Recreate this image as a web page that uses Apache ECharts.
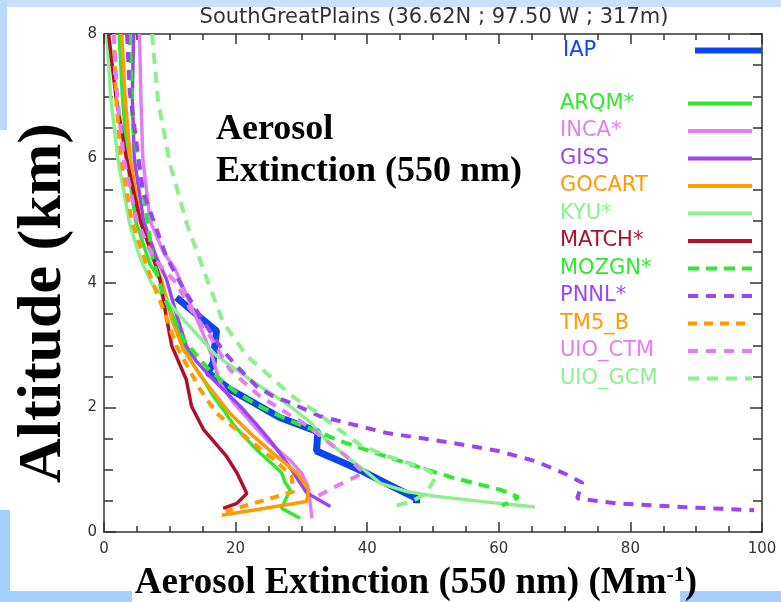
<!DOCTYPE html>
<html>
<head>
<meta charset="utf-8">
<script src="https://cdn.jsdelivr.net/npm/echarts@6/dist/echarts.min.js"></script>
<style>
html, body { margin: 0; padding: 0; background: #fff; }
#main { width: 781px; height: 602px; }
</style>
</head>
<body>
<div id="main"></div>
<script>
// profiles: [extinction (Mm-1), altitude (km)]
var iap = [[11.0,3.77],[14,3.5],[17.1,3.23],[16.8,2.95],[16.6,2.72],[15.8,2.56],[19,2.3],[22.7,2.08],[26.7,1.84],[32.5,1.61],[32.3,1.30],[36,1.13],[39.4,0.97],[43.5,0.75],[47.5,0.54],[47.5,0.46]];
var arqm = [[2.3,8],[2.8,7],[3.5,6],[4.8,5],[7,4.3],[8.5,4.06],[10,3.6],[12,3.04],[13.5,2.7],[15.1,2.45],[16.5,2.2],[18.1,1.97],[19.5,1.75],[21.2,1.54],[22.5,1.4],[23.7,1.27],[25.5,1.1],[27,0.95],[27.5,0.8],[28.3,0.68],[27.5,0.5],[27,0.38],[29.8,0.22]];
var inca = [[5.4,8],[5.6,7],[5.9,6],[7,5],[9,4.5],[10.8,4.23],[13,3.69],[15,3.2],[16.5,2.8],[17.6,2.4],[19.5,2.1],[22,1.8],[25,1.45],[28.2,1.16],[30,0.95],[31,0.73],[31.3,0.5],[31.6,0.22]];
var giss = [[4.5,8],[4.3,7],[4.6,6],[6,5],[8,4.4],[9.5,4.06],[11,3.5],[12.5,2.99],[14,2.75],[16.1,2.5],[18.5,2.25],[20.7,2.02],[23,1.75],[25,1.5],[26.7,1.27],[28.5,1.0],[30.8,0.63],[34.4,0.41]];
var gocart = [[2.7,8],[3.2,7],[4,6],[5.5,5],[7.5,4.4],[8.7,4.06],[10.3,3.42],[12,2.94],[15.1,2.45],[19.1,1.91],[22.7,1.54],[26.2,1.22],[29.3,0.95],[31.1,0.68],[30.8,0.49],[17.9,0.27]];
var kyu = [[0.4,8],[1.0,7],[2.1,6],[3.9,4.95],[5.5,4.4],[7.2,4.0],[12,3.42],[17.1,2.83],[22.2,2.45],[28.3,2.02],[31.5,1.75],[33.5,1.5],[37,1.2],[39.5,1.0],[42,0.78],[46,0.65],[50,0.58],[55,0.52],[60,0.46],[65.5,0.4]];
var match = [[0.7,8],[1.8,7],[3.4,6],[5.5,5],[7.5,4.4],[8.5,4.06],[9.4,3.5],[10.3,2.99],[12.5,2.45],[13.3,2.02],[15.1,1.65],[18.6,1.22],[20.2,0.95],[21.7,0.62],[20.2,0.46],[18.1,0.38]];
var mozgn = [[3.9,8],[4.4,6.5],[5.9,5.5],[7.4,4.4],[9,3.8],[12,3.1],[16,2.6],[20,2.25],[24,2.0],[28,1.8],[32.8,1.6],[35.4,1.48],[38.4,1.37],[43.5,1.19],[50.6,0.95],[53.1,0.87],[60.2,0.68],[63,0.56],[60.5,0.42]];
var pnnl = [[3.5,8],[3.9,7.08],[5.9,5.48],[9.5,4.42],[11.8,3.96],[15,3.4],[17.9,2.94],[20.1,2.67],[23.2,2.34],[25.7,2.18],[27.8,2.1],[32.8,1.86],[43,1.59],[53.1,1.43],[60,1.3],[65.8,1.13],[70.4,0.92],[72.7,0.79],[71.9,0.54],[78,0.46],[88,0.4],[98.8,0.35]];
var tm5b = [[1.5,8],[1.8,7],[2.6,6],[4.2,5],[5.8,4.5],[7.2,4.06],[9.2,3.53],[11,2.99],[13,2.6],[14.6,2.29],[17.1,1.91],[19.5,1.7],[23,1.4],[26,1.15],[28.5,0.9],[28.8,0.65],[24,0.5],[18.5,0.33]];
var uioCtm = [[1.5,8],[2,7],[3,6],[5,5],[7.5,4.4],[11,4.0],[13,3.6],[16.1,3.15],[19.1,2.61],[23.7,2.18],[27.2,1.95],[31,1.7],[34,1.45],[37,1.2],[39.5,0.95],[35,0.72],[31.5,0.52]];
var uioGcm = [[7.3,8],[8.2,6.94],[10,5.92],[12.6,4.95],[16,3.96],[18.1,3.37],[21.7,2.83],[26.3,2.4],[29,2.15],[32.4,1.92],[35,1.7],[38.9,1.40],[43,1.22],[48.6,1.03],[50.5,0.9],[49,0.62],[46.5,0.48],[43.5,0.4]];

var names = ['IAP','ARQM*','INCA*','GISS','GOCART','KYU*','MATCH*','MOZGN*','PNNL*','TM5_B','UIO_CTM','UIO_GCM'];
var profiles = [iap, arqm, inca, giss, gocart, kyu, match, mozgn, pnnl, tm5b, uioCtm, uioGcm];

// look of each line, same order as names
var colors = ['#0a46f0','#2fe82f','#e27ff0','#9b45f0','#ff9a00','#8cf08c','#b0102a','#2fe82f','#9b45f0','#ff9a00','#e27ff0','#8cf08c'];
var dashes = ['solid','solid','solid','solid','solid','solid','solid',[11,7],[10,8],[9,7],[10,8],[11,8]];
var widths = [7,3.5,3.5,3.5,3.5,3.5,3.5,4,4,4,4,4];

var myChart = echarts.init(document.getElementById('main'));

var series = names.map(function (n, i) {
	return {
		name: n,
		type: 'line',
		data: profiles[i],
		symbol: 'none',
		smooth: false,
		silent: true,
		lineStyle: { color: colors[i], width: widths[i], type: dashes[i] },
		itemStyle: { color: colors[i] }
	};
});

// fixed width box, text pushed to its left edge so the line samples line up
var legendFont = {
	fontFamily: 'DejaVu Sans', fontSize: 21, lineHeight: 20, width: 123,
	rich: { n: { align: 'left', fontFamily: 'DejaVu Sans', fontSize: 21, lineHeight: 20 } }
};

function legendItems(list) {
	return list.map(function (n) {
		return { name: n, textStyle: { color: colors[names.indexOf(n)] } };
	});
}

var tickStyle = { color: '#333', fontFamily: 'DejaVu Sans', fontSize: 15 };
var lineSty = { color: '#333', width: 1.5 };

function xAx(pos, labels) {
	return {
		type: 'value', position: pos, min: 0, max: 100, interval: 20,
		axisLine: { show: true, onZero: false, lineStyle: lineSty },
		axisTick: { show: true, inside: true, length: 10, lineStyle: lineSty },
		minorTick: { show: true, splitNumber: 4, length: 6, lineStyle: lineSty },
		splitLine: { show: false },
		axisLabel: { show: labels, margin: 10, textStyle: tickStyle }
	};
}
function yAx(pos, labels) {
	return {
		type: 'value', position: pos, min: 0, max: 8, interval: 2,
		axisLine: { show: true, onZero: false, lineStyle: lineSty },
		axisTick: { show: true, inside: true, length: 12, lineStyle: lineSty },
		minorTick: { show: true, splitNumber: 4, length: 9, lineStyle: lineSty },
		splitLine: { show: false },
		axisLabel: { show: labels, margin: 7, textStyle: tickStyle }
	};
}

var option = {
	animation: false,
	backgroundColor: '#fff',
	grid: { left: 104, right: 19, top: 34, bottom: 70 },
	xAxis: [xAx('bottom', true), xAx('top', false)],
	yAxis: [yAx('left', true), yAx('right', false)],
	legend: [
		{
			data: legendItems(['IAP']),
			orient: 'vertical', left: 558, top: 35, align: 'right',
			itemWidth: 67, itemHeight: 14, selectedMode: false,
			itemStyle: { opacity: 0 },
			lineStyle: { width: 6 },
			formatter: '{n|{name}}',
			textStyle: { fontFamily: 'DejaVu Sans', fontSize: 21, lineHeight: 20, width: 127,
				rich: legendFont.rich }
		},
		{
			data: legendItems(names.slice(1)),
			orient: 'vertical', left: 555, top: 88, align: 'right',
			itemWidth: 64, itemHeight: 14, itemGap: 6.5, selectedMode: false,
			itemStyle: { opacity: 0 },
			lineStyle: { width: 4 },
			formatter: '{n|{name}}',
			textStyle: legendFont
		}
	],
	graphic: [
		// light blue slide frame
		{ type: 'rect', shape: { x: 0, y: 0, width: 781, height: 7 }, style: { fill: '#c6e2ff' }, z: -10 },
		{ type: 'rect', shape: { x: 0, y: 0, width: 7, height: 130 }, style: { fill: '#b8dbff' }, z: -10 },
		{ type: 'rect', shape: { x: 0, y: 510, width: 10, height: 92 }, style: { fill: '#a3d0ff' }, z: -10 },
		{ type: 'rect', shape: { x: 0, y: 591, width: 132, height: 11 }, style: { fill: '#a3d0ff' }, z: -10 },
		{ type: 'rect', shape: { x: 680, y: 591, width: 101, height: 11 }, style: { fill: '#a3d0ff' }, z: -10 },
		{
			type: 'text', x: 434, y: 18,
			style: { text: 'SouthGreatPlains (36.62N ; 97.50 W ; 317m)', fill: '#333',
				font: '21px "DejaVu Sans"', textAlign: 'center', textVerticalAlign: 'middle' }
		},
		{
			type: 'text', x: 44, y: 303, rotation: Math.PI / 2,
			style: { text: 'Altitude (km)', fill: '#000',
				font: 'bold 62px "Liberation Serif"', textAlign: 'center', textVerticalAlign: 'middle' }
		},
		{
			type: 'text', x: 416, y: 583,
			style: {
				text: '{a|Aerosol Extinction (550 nm) (Mm}{s|-1}{a|)}',
				textAlign: 'center', textVerticalAlign: 'middle',
				rich: {
					a: { font: 'bold 37px "Liberation Serif"', fill: '#000' },
					s: { font: 'bold 22px "Liberation Serif"', fill: '#000', verticalAlign: 'top', padding: [0, 0, 14, 0] }
				}
			}
		},
		{
			type: 'text', x: 216, y: 109,
			style: { text: 'Aerosol\nExtinction (550 nm)', fill: '#000', lineHeight: 42,
				font: 'bold 36px "Liberation Serif"', textAlign: 'left', textVerticalAlign: 'top' }
		}
	],
	series: series
};

myChart.setOption(option);
</script>
</body>
</html>
